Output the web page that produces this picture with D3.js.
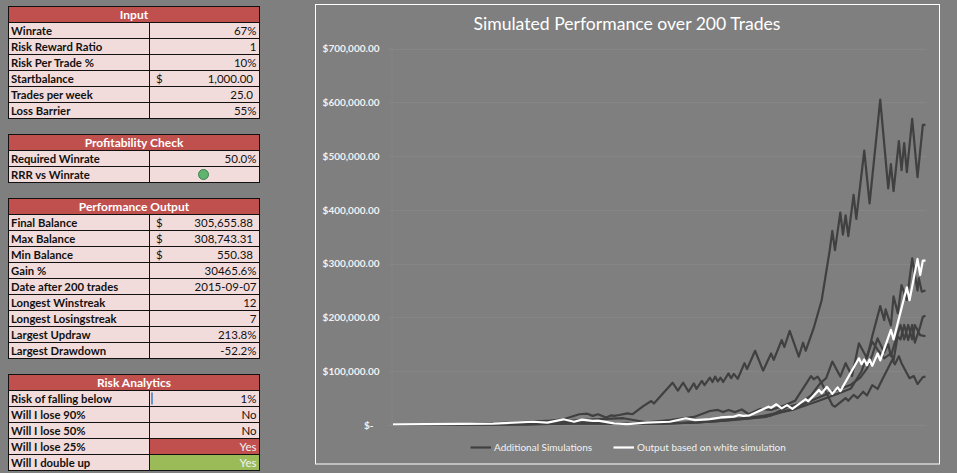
<!DOCTYPE html>
<html>
<head>
<meta charset="utf-8">
<script src="https://cdn.jsdelivr.net/npm/d3@7/dist/d3.min.js"></script>
<style>
html,body{margin:0;padding:0;background:#7f7f7f;overflow:hidden}
svg{display:block}
text{font-family:Lato,"Open Sans",sans-serif}
</style>
</head>
<body>
<svg id="sheet" width="957" height="473"></svg>
<script>
// Spreadsheet panels: label column and value column per section.
const inputLabels = ["Winrate","Risk Reward Ratio","Risk Per Trade %","Startbalance","Trades per week","Loss Barrier"];
const inputValues = ["67%","1","10%","$|1,000.00","25.0","55%"];
const checkLabels = ["Required Winrate","RRR vs Winrate"];
const checkValues = ["50.0%","●"];
const outputLabels = ["Final Balance","Max Balance","Min Balance","Gain %","Date after 200 trades","Longest Winstreak","Longest Losingstreak","Largest Updraw","Largest Drawdown"];
const outputValues = ["$|305,655.88","$|308,743.31","$|550.38","30465.6%","2015-09-07","12","7","213.8%","-52.2%"];
const riskLabels = ["Risk of falling below","Will I lose 90%","Will I lose 50%","Will I lose 25%","Will I double up"];
const riskValues = ["1%","No","No","Yes","Yes"];

// Chart axis and legend text.
const chartTitle = "Simulated Performance over 200 Trades";
const tickValues = [0,100000,200000,300000,400000,500000,600000,700000];
const legendLabels = ["Additional Simulations","Output based on white simulation"];

// Simulated balances as [trade number, balance in thousands of dollars].
const simulationA = [[0,1],[30,2],[51,6],[59,8],[64,10.6],[70,20],[73,21],[75,17],[77,20],[80,14],[82,18],[83,17],[85,18.6],[88,21.7],[90,20],[94,35],[97,44.6],[98,40],[105,78.6],[107,64],[109,78.6],[111,62],[113,77.5],[114,67],[116,82],[117,74],[119,88],[120,80],[121,90],[122,81],[123,88],[124,80],[126,96],[127,87],[128,95],[129.5,86],[132,115],[133,104],[136,138],[139,101],[142,133],[143,121],[146,158],[147,145],[149,175],[152.4,127],[154,153],[155,138],[158,180],[161,232],[164,324],[165,361],[166,325],[168,395],[169,354],[170,390],[171,351],[173,428],[174,383],[177,510],[179,412],[183,605],[186,440],[187,485],[188,435],[190,528],[191,474],[192,524],[193,470],[195,569],[197,461],[199,558],[200,558]];
const simulationB = [[0,1],[40,1],[55,1.5],[70,3],[80,2.5],[96,2],[115,5],[130,12],[142,18],[148,33],[153,40],[157,55],[160.5,78],[162.7,87],[165,118],[168,90],[170,115],[172.4,91],[175,152],[178,124],[180,165],[183,221],[184.5,195],[185,215],[187,185],[188,239],[189.6,208],[191,260],[193,232],[195,310],[197,250],[197.5,273],[198.6,248],[200,250]];
const simulationC = [[0,1],[45,1],[60,2],[72,3.5],[85,2],[100,2],[120,6],[135,13],[150,28],[160,45],[168,60],[172,68],[176,100],[178,128],[180,155],[182,140],[184.5,124],[187,133],[188,120],[189.5,165],[190.6,159],[192,186],[193.5,158],[195,186],[196,153],[198,183],[199,201],[200,203]];
const simulationD = [[0,1],[50,1],[60,3],[70,5],[80,4],[90,2],[110,4],[125,8],[140,15],[150,30],[157,45],[165,62],[172,75],[175.5,88],[178,105],[180,130],[182,161],[184.5,135],[186,150],[187,128],[188,145],[190.6,186],[192,159],[193.5,186],[195,159],[196,186],[198,167],[200,165]];
const simulationE = [[0,1],[40,2],[55,5],[64,7],[70,9],[78,11],[86.5,12.6],[93,7],[95.5,5],[104,9],[113,15],[119,26],[122,28],[124,24],[126,28],[128.5,24],[131,29],[133.6,20],[138,30],[142,28],[147.4,37],[151,45],[157,91],[158,85],[159.5,90],[161,78],[165,37],[166,34],[170,50],[171,45],[173,56],[174.5,50],[176.6,62],[178,55],[180,74],[182,67],[184,87],[187.5,121],[188.5,113],[190,128],[191,115],[194,87],[195.6,91],[197,76],[199,89],[200,90]];
const simulationWhite = [[0,1],[37.6,2.5],[52.6,6],[58,4.5],[64,10.6],[68,6],[71,10],[75,7.5],[77,8],[83,3],[88,1.5],[95,4.5],[104,6],[110,12.5],[113.5,9],[119,11],[123,14],[128,15.5],[130,18.5],[131.6,17],[134,18],[141,34],[142,32],[144,38.5],[146,31],[148,37],[150,30],[155,48],[156,44],[160,65],[161,59],[163,71],[165,58],[167,70],[168,63],[175,124],[176,113],[177,122],[178,111],[179,122],[180,110],[182,133],[183,120],[187,177],[188,159],[193,256],[194,232],[197,308.7],[198,279],[199,305.7],[200,305.7]];

const svg = d3.select("#sheet");
const colors = {bg:"#7f7f7f",head:"#c0504d",cell:"#f2dcdb",good:"#9bbb59",ink:"#111111",lamp:"#5fb56f"};
const rowH = 16, tableX = 8.5, splitX = 149.5, tableR = 259.5;

// Draw one bordered block: a red title row followed by label/value rows.
function drawTable(top, title, labels, values, fills) {
  const g = svg.append("g").attr("transform", `translate(0,${top})`);
  g.append("rect").attr("x",tableX).attr("y",0).attr("width",tableR-tableX).attr("height",rowH).attr("fill",colors.head).attr("stroke",colors.ink);
  g.append("text").attr("x",(tableX+tableR)/2).attr("y",12).attr("text-anchor","middle").attr("fill","#fff").attr("font-size",12).attr("font-weight",700).text(title);
  const rows = g.selectAll("g.row").data(labels).join("g").attr("class","row").attr("transform",(d,i)=>`translate(0,${rowH*(i+1)})`);
  rows.append("rect").attr("x",tableX).attr("width",splitX-tableX).attr("height",rowH).attr("fill",colors.cell).attr("stroke",colors.ink);
  rows.append("rect").attr("x",splitX).attr("width",tableR-splitX).attr("height",rowH).attr("fill",(d,i)=>(fills&&fills[i])||colors.cell).attr("stroke",colors.ink);
  rows.append("text").attr("x",11).attr("y",12.5).attr("fill",colors.ink).attr("font-size",11.3).attr("font-weight",700).text(d=>d);
  rows.each(function(d,i){
    const row = d3.select(this), raw = values[i];
    if (raw === "●") {
      row.append("circle").attr("cx",203.5).attr("cy",8).attr("r",5).attr("fill",colors.lamp).attr("stroke","#3f7f4f");
      return;
    }
    const parts = raw.split("|");
    if (parts.length === 2) {
      row.append("text").attr("x",156).attr("y",12.5).attr("font-size",11.5).attr("fill",colors.ink).text(parts[0]);
      row.append("text").attr("x",253).attr("y",12.5).attr("text-anchor","end").attr("font-size",11.5).attr("fill",colors.ink).text(parts[1]);
    } else {
      const filled = fills && fills[i];
      row.append("text").attr("x",raw==="25.0"?253:256.5).attr("y",12.5).attr("text-anchor","end").attr("font-size",11.5)
        .attr("fill",filled?"#f2f2f2":colors.ink).text(raw);
    }
  });
  return g;
}

drawTable(6.5,"Input",inputLabels,inputValues);
drawTable(134.5,"Profitability Check",checkLabels,checkValues);
drawTable(198.5,"Performance Output",outputLabels,outputValues);
const riskTable = drawTable(374.5,"Risk Analytics",riskLabels,riskValues,[null,null,null,colors.head,colors.good]);
// Small data bar in the "Risk of falling below" cell.
riskTable.append("rect").attr("x",151).attr("y",18).attr("width",2).attr("height",12).attr("fill","#6a93c8");

// Chart frame and title.
svg.append("rect").attr("x",315.5).attr("y",4.5).attr("width",624).attr("height",459.5).attr("fill",colors.bg).attr("stroke","#ffffff");
svg.append("text").attr("x",627).attr("y",30).attr("text-anchor","middle").attr("fill","#fff").attr("font-size",17.6).text(chartTitle);

// Scales: trades across, dollars up.
const x = d3.scaleLinear().domain([0,200]).range([393,925.5]);
const y = d3.scaleLinear().domain([0,700000]).range([425,48.5]);

// Gridlines and value axis.
const dollars = d3.format(",.2f");
const yAxis = d3.axisLeft(y).tickValues(tickValues).tickSize(3).tickPadding(9)
  .tickFormat(v => v === 0 ? "$-" : "$" + dollars(v));
const axisG = svg.append("g").attr("transform","translate(391.5,0)").call(yAxis);
axisG.selectAll("line").attr("stroke","#868686");
axisG.select(".domain").attr("stroke","#868686");
axisG.selectAll("text").attr("fill","#f2f2f2").attr("font-size",10).attr("font-weight",700).style("font-family","Lato,sans-serif");
axisG.selectAll("text").filter(d=>d===0).attr("dx",-6);
svg.append("g").selectAll("line").data(tickValues).join("line")
  .attr("x1",391.5).attr("x2",926.5).attr("y1",d=>Math.round(y(d))+.5).attr("y2",d=>Math.round(y(d))+.5)
  .attr("stroke","#868686");

// Balance curves, with the highlighted run on top.
const balanceLine = d3.line().x(d=>x(d[0])).y(d=>y(d[1]*1000));
svg.append("g").selectAll("path").data([simulationA,simulationB,simulationC,simulationD,simulationE]).join("path")
  .attr("d",balanceLine).attr("fill","none").attr("stroke","#404040").attr("stroke-width",2.2).attr("stroke-linejoin","round");
svg.append("path").datum(simulationWhite).attr("d",balanceLine).attr("fill","none").attr("stroke","#ffffff").attr("stroke-width",2.2).attr("stroke-linejoin","round");

// Legend.
const legend = svg.append("g").selectAll("g").data(legendLabels).join("g")
  .attr("transform",(d,i)=>`translate(${i?613.5:470.5},447.5)`);
legend.append("line").attr("x2",20.5).attr("stroke",(d,i)=>i?"#ffffff":"#404040").attr("stroke-width",2.2);
legend.append("text").attr("x",23.5).attr("y",3.5).attr("fill","#f2f2f2").attr("font-size",10).text(d=>d);
</script>
</body>
</html>
